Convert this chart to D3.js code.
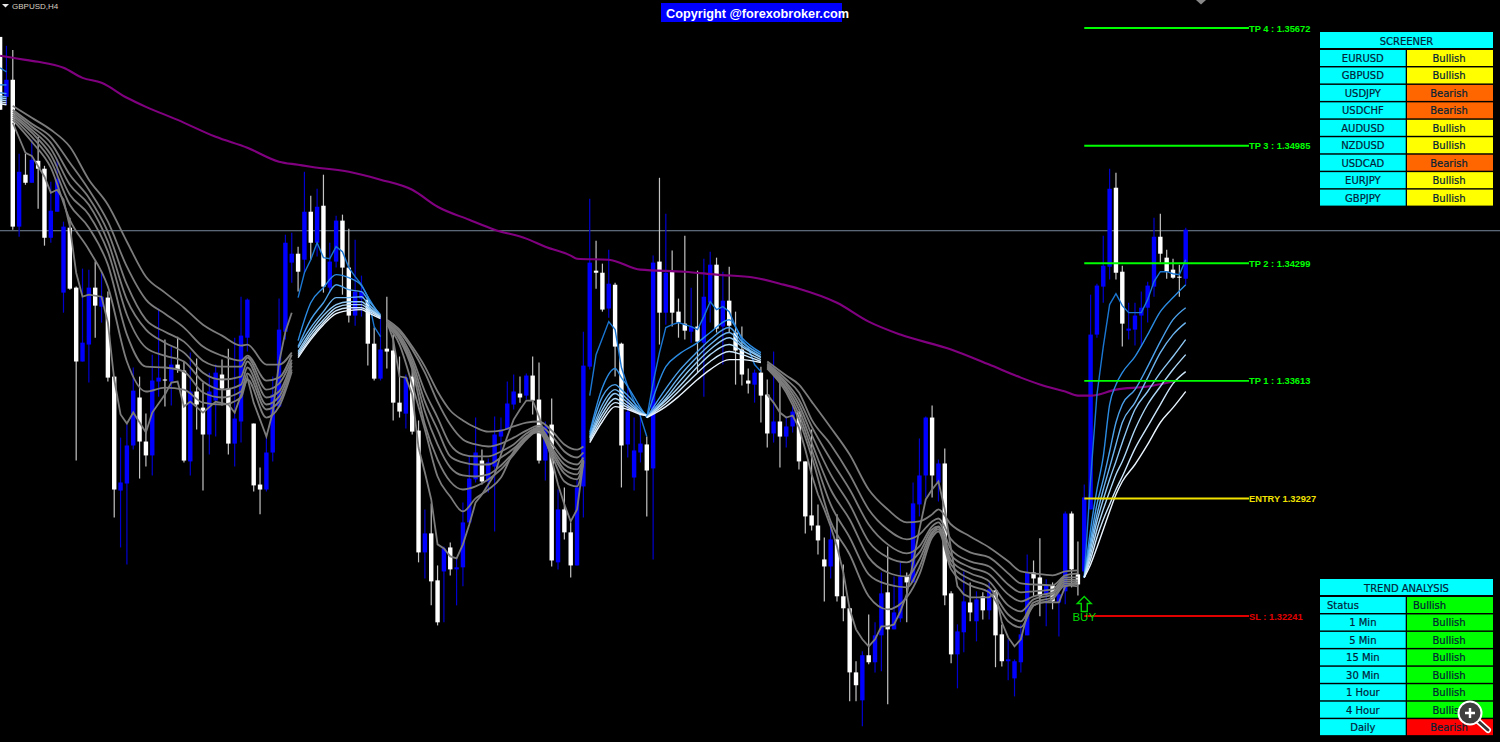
<!DOCTYPE html>
<html>
<head>
<meta charset="utf-8">
<title>GBPUSD,H4</title>
<script src="https://cdn.jsdelivr.net/npm/d3@7"></script>
<style>
    html, body { margin: 0; background: #000; overflow: hidden; }
    svg { display: block; }
    text { font-family: "Liberation Sans", Arial, sans-serif; }
    .cell-text { font-family: "DejaVu Sans", sans-serif; font-size: 10px; fill: #022238; stroke: #022238; stroke-width: 0.2; }
</style>
</head>
<body>
<div id="chart"></div>
<script>
// All prices below are in points above 1.30000 (4513 = 1.34513)
const opens = [
    5620,5270,5370,4513,4816,4769,4897,4851,4448,4600,
    4128,4507,4157,3726,3825,4157,4046,4099,3638,2973,
    3014,3236,3516,3259,3178,3609,3621,3609,3708,3673,
    3143,3551,3457,3300,3498,3650,3568,3247,3376,3865,
    3364,3008,2979,3195,3463,3900,4303,4355,4320,4600,
    4419,4635,4157,4309,4548,4274,3994,4093,4087,3830,
    3626,3801,3790,3486,3422,3638,3323,2612,2723,2449,
    2501,2641,2513,2525,2787,3038,3148,3026,3113,3288,
    3329,3475,3539,3527,3644,3504,3148,3358,2554,2863,
    2729,2536,2997,3696,4256,4244,4035,4174,3830,3242,
    3049,3195,3242,3102,4309,4011,4250,4017,3947,3900,
    3930,3836,4069,4291,3930,4081,3895,3796,3615,3591,
    3661,3533,3306,3376,3288,3347,3434,3143,2828,2769,
    2571,2530,2688,2356,2286,1912,1749,2012,1971,2128,
    2379,2163,2227,2472,2437,2892,3061,3399,3020,3131,
    2373,2017,2146,2320,2210,2356,2274,2390,2134,1977,
    1877,1971,2128,2495,2466,2367,2420,2320,2385,2839,
    2484,2501,2863,3883,4163,4279,4740,4250,3906,3912,
    3994,4040,4163,4454,4332,4262,4221,4209
];
const highs = [
    5620,5568,5544,4938,4938,5020,5037,4868,4775,4909,
    4542,4565,4163,4268,4262,4309,4250,4134,3638,3282,
    3358,3691,3638,3422,3766,4035,3854,3813,3871,3726,
    3778,3743,3603,3661,3708,3737,3801,3865,4104,4093,
    3364,3108,3288,3638,4093,4466,4478,4396,4833,4693,
    4734,4816,4419,4577,4583,4501,4437,4227,4104,3924,
    3988,4104,3883,3755,3650,3679,3382,2863,2898,2536,
    2647,2670,2577,2904,3178,3399,3212,3160,3405,3399,
    3609,3650,3638,3656,3755,3720,3376,3510,2979,2991,
    2787,3038,3900,4676,4431,4297,4378,4186,3836,3591,
    3399,3417,3288,4344,4798,4588,4373,4093,4460,4157,
    4256,4326,4367,4332,4250,4279,4017,3930,3685,3679,
    3696,3621,3784,3638,3405,3475,3434,3143,3329,2892,
    2699,2787,2834,2542,2286,1977,2035,2250,2204,2495,
    2647,2472,2554,2495,3020,3277,3405,3469,3154,3218,
    2385,2192,2501,2437,2385,2379,2437,2396,2192,2105,
    1988,2192,2600,2565,2694,2455,2437,2379,2851,2851,
    2676,3008,4116,4180,4460,4851,4827,4285,4069,4069,
    4134,4192,4565,4588,4378,4326,4291,4507
];
const lows = [
    5195,5224,4495,4454,4757,4769,4618,4402,4419,4600,
    4011,4145,3148,3726,3603,3865,3953,3609,2816,2641,
    2542,3212,3043,3113,3061,3521,3463,3469,3661,3137,
    3061,3329,2973,3183,3288,3469,3183,3113,3253,3784,
    2968,2834,2968,3143,3457,3854,4186,4134,4244,4320,
    4338,4128,4128,4274,4116,3953,3935,3988,3702,3615,
    3615,3685,3382,3399,3335,3300,2554,2460,2303,2186,
    2204,2478,2303,2414,2787,3020,3008,2962,2734,3195,
    3329,3446,3486,3504,3417,3131,3032,2530,2513,2688,
    2466,2536,2816,3679,4151,4017,3982,3638,2991,3166,
    2973,3137,2822,2571,3825,3941,3930,3865,3854,3836,
    3661,3521,3953,3895,3708,3895,3591,3586,3539,3486,
    3370,3224,3253,3108,3224,3312,3096,2723,2740,2600,
    2326,2460,2326,2210,1743,1743,1598,1959,1912,1918,
    1726,2163,2204,2204,2437,2822,2933,2933,2909,2303,
    1965,1819,2029,2210,2093,2221,2221,1942,1947,1866,
    1772,1912,2128,2356,2239,2181,2280,2122,2309,2408,
    2361,2466,2863,3865,4069,4204,4204,3813,3854,3819,
    3813,3953,4104,4303,4209,4209,4104,4174
];
const closes = [
    5195,5370,4513,4833,4769,4903,4851,4448,4606,4792,
    4513,4151,3726,3836,4157,4052,4104,3632,2979,3020,
    3236,3556,3259,3178,3615,3632,3615,3708,3679,3148,
    3551,3475,3300,3551,3661,3568,3247,3393,3877,4087,
    3003,2979,3195,3533,3912,4419,4355,4250,4600,4419,
    4629,4163,4309,4548,4274,3994,4134,4134,3830,3626,
    3796,3784,3486,3434,3632,3317,2612,2723,2443,2204,
    2635,2513,2525,2787,3043,3195,3026,3137,3300,3329,
    3481,3551,3516,3644,3498,3148,3347,2565,2863,2729,
    2536,2991,3702,4303,4244,4029,4180,3813,3236,3434,
    3207,3247,3090,4303,4011,4244,4011,3953,3906,3930,
    3842,4104,4291,3918,4081,3935,3790,3650,3597,3661,
    3527,3306,3376,3288,3347,3434,3143,2822,2769,2682,
    2530,2688,2356,2286,1912,1837,2012,1971,2128,2373,
    2163,2262,2472,2437,2898,3061,3399,3061,3131,2361,
    2017,2151,2326,2262,2338,2274,2396,2128,1977,1988,
    1977,2134,2495,2460,2356,2420,2326,2367,2839,2513,
    2425,2933,3883,4169,4285,4734,4244,3947,3918,3994,
    4040,4169,4454,4355,4250,4215,4215,4495
];

// Long moving average (purple)
const maBars = [0,2,4,6,10,13,16,20,23,28,34,39,44,47,49,55,60,65,69,74,78,83,86,90,91,96,101,108,113,119,123,126,132,137,142,150,156,161,165,168,170,172,176,181,185];
const maValues = [5510,5498,5486,5475,5440,5381,5352,5265,5212,5136,5037,4973,4892,4874,4862,4833,4787,4728,4629,4553,4495,4443,4396,4344,4326,4320,4262,4250,4233,4215,4180,4151,4069,3959,3883,3796,3708,3632,3580,3551,3527,3527,3562,3580,3609];

// Ribbon stretches: fastest line has its own bars, the slower seven share theirs
const fastBarsA = [0,1];
const fastA = [5440,5416];
const slowBarsA = [0,1];
const slowA = [[5340,5340],[5294,5288],[5276,5270],[5265,5259],[5253,5247],[5241,5235],[5230,5224]];

const fastBarsB = [2,4,5,7,8,9,10,11,12,13,14,16,17,18,19,20,21,23,24,26,27,28,29,30,32,34,36,37,39,40,42,43,44,45,46];
const fastB = [5119,4944,4926,4804,4711,4728,4670,4513,4244,4104,4116,4104,3953,3621,3417,3364,3428,3312,3428,3533,3603,3609,3463,3492,3428,3492,3475,3428,3632,3486,3288,3428,3720,3900,4011];
const slowBarsB = [2,5,8,11,14,17,20,23,26,29,32,35,38,39,42,44,46];
const slowB = [
    [5136,5008,4857,4553,4378,4163,3726,3551,3574,3562,3486,3475,3516,3621,3399,3463,3667],
    [5148,5037,4897,4641,4507,4291,3883,3696,3691,3667,3545,3516,3551,3656,3446,3492,3679],
    [5160,5061,4932,4699,4583,4367,3999,3807,3760,3726,3609,3562,3591,3691,3475,3521,3702],
    [5171,5078,4967,4757,4641,4425,4087,3912,3836,3778,3661,3621,3638,3726,3516,3551,3720],
    [5183,5096,5002,4816,4682,4483,4174,3970,3900,3842,3731,3696,3696,3749,3562,3597,3737],
    [5195,5113,5037,4886,4728,4542,4279,4087,4005,3924,3813,3760,3731,3760,3615,3632,3766],
    [5218,5148,5078,4979,4787,4641,4425,4221,4128,4040,3941,3877,3819,3825,3708,3708,3778]
];

const fastBarsC = [47,48,49,50,51,52,53,54,55,56,57,58,59,60];
const fastC = [4099,4244,4320,4419,4332,4326,4396,4367,4274,4221,4174,4104,3930,3871];
const slowBarsC = [47,49,51,53,55,57,58,60];
const slowC = [
    [3848,4069,4157,4233,4215,4169,4104,3988],
    [3813,3970,4069,4174,4145,4134,4087,3999],
    [3807,3924,4017,4099,4099,4104,4064,3994],
    [3784,3900,3994,4058,4075,4075,4046,3988],
    [3772,3883,3970,4040,4058,4058,4035,3988],
    [3760,3865,3953,4023,4040,4040,4023,3982],
    [3749,3854,3941,4005,4023,4029,4011,3976]
];

const fastBarsD = [61,62,63,64,65,66,67,68,69,70,71,72,73,74,75,76,77,78,79,80,81,82,83,84,85,86,87,88,89,90,91,92];
const fastD = [3959,3854,3638,3632,3533,3224,3078,2921,2659,2635,2589,2577,2659,2775,2904,2950,3008,3067,3183,3288,3387,3446,3498,3498,3405,3282,3154,3008,2892,2793,2863,3137];
const slowBarsD = [61,63,65,67,69,71,73,75,77,79,81,83,85,87,89,91,92];
const slowD = [
    [3941,3825,3591,3329,3055,2938,2851,2927,2979,3049,3201,3288,3312,3178,3026,2997,3143],
    [3947,3854,3679,3358,3154,3026,2979,2997,3038,3096,3183,3271,3323,3195,3073,3038,3143],
    [3953,3865,3702,3434,3242,3108,3061,3055,3067,3119,3195,3277,3329,3212,3096,3067,3148],
    [3953,3871,3726,3492,3329,3172,3137,3125,3125,3166,3218,3288,3335,3224,3125,3096,3154],
    [3953,3883,3749,3551,3399,3242,3183,3172,3172,3201,3242,3306,3341,3247,3154,3125,3166],
    [3959,3900,3796,3661,3492,3358,3271,3242,3230,3247,3282,3323,3352,3294,3201,3166,3195],
    [3970,3912,3813,3696,3551,3440,3382,3341,3317,3323,3347,3370,3376,3323,3242,3212,3230]
];

const fastBarsE = [93,94,96,97,98,99,101,102];
const fastE = [3527,3766,3959,3912,3691,3580,3405,3288];
const slowBarsE = [93,95,97,98,99,101,102];
const slowE = [
    [3312,3574,3685,3632,3580,3457,3399],
    [3300,3521,3591,3562,3527,3446,3411],
    [3288,3475,3562,3539,3504,3434,3411],
    [3282,3446,3539,3516,3486,3428,3411],
    [3277,3422,3510,3492,3469,3422,3411],
    [3265,3399,3486,3475,3457,3422,3411],
    [3253,3376,3463,3457,3446,3417,3411]
];

const fastBarsF = [102,103,104,105,106,107,108,109,110,111,112,113,114,115,116,117,118,119,120];
const fastF = [3399,3603,3778,3924,3941,3953,3941,3930,3912,3988,4075,4029,4046,4017,3930,3854,3807,3708,3667];
const slowBarsF = [102,105,107,110,112,115,117,120];
const slowF = [
    [3399,3696,3766,3836,3895,3970,3865,3778],
    [3399,3568,3667,3784,3854,3924,3842,3766],
    [3399,3533,3632,3755,3825,3895,3825,3755],
    [3399,3510,3603,3726,3796,3865,3813,3749],
    [3399,3498,3574,3696,3766,3825,3790,3737],
    [3399,3481,3551,3661,3726,3784,3766,3726],
    [3399,3463,3521,3621,3679,3737,3737,3720]
];

const fastBarsG = [121,122,123,124,125,126,127,128,129,130,131,132,133,134,135,136,137,138,139,140,141,142,143,144,145,146,147,148,149,150,151,152,153,154,155,156,157,158,159,160,161,162,163,164,165,166,167,168,169,170];
const fastG = [3533,3486,3428,3399,3411,3341,3212,3067,2950,2863,2764,2647,2495,2280,2163,2105,2064,2105,2181,2181,2192,2268,2367,2554,2746,2921,2979,3026,2863,2629,2414,2367,2350,2350,2350,2350,2379,2204,2116,2064,2105,2250,2303,2320,2320,2320,2320,2414,2425,2437];
const slowBarsG = [121,124,126,128,131,134,137,140,143,145,147,148,150,153,156,159,161,163,166,168,170];
const slowG = [
    [3685,3545,3387,3172,2793,2600,2356,2280,2350,2484,2699,2734,2513,2420,2379,2210,2175,2303,2338,2420,2414],
    [3691,3562,3417,3212,2892,2699,2484,2425,2408,2525,2717,2746,2542,2455,2408,2250,2210,2320,2350,2431,2425],
    [3696,3574,3446,3253,2979,2804,2583,2495,2472,2571,2729,2758,2565,2490,2443,2303,2268,2338,2367,2443,2437],
    [3702,3591,3475,3300,3067,2892,2676,2583,2554,2612,2746,2764,2595,2525,2484,2367,2326,2356,2379,2455,2449],
    [3708,3603,3504,3347,3154,2979,2775,2659,2606,2647,2764,2787,2629,2560,2530,2425,2379,2385,2396,2466,2466],
    [3714,3621,3545,3387,3242,3067,2863,2746,2688,2717,2793,2810,2688,2612,2583,2490,2431,2425,2420,2478,2490],
    [3726,3644,3591,3492,3341,3183,2979,2863,2787,2793,2834,2863,2775,2705,2641,2560,2501,2490,2478,2501,2507]
];

const fastBarsH = [171,172,173,174,175,176,177,178,179,180,181,182,183,184,185,186,187];
const fastH = [2466,3038,3533,3813,4058,4122,4052,4011,4011,4011,4087,4192,4250,4250,4238,4233,4320];
const slowBarsH = [171,172,173,174,175,176,177,179,181,183,185,187];
const slowH = [
    [2466,2746,2979,3172,3475,3591,3661,3755,3883,4017,4099,4174],
    [2466,2688,2892,3038,3201,3370,3475,3562,3696,3842,3970,4040],
    [2466,2659,2833,2979,3108,3242,3370,3486,3632,3778,3883,3953],
    [2466,2629,2793,2921,3038,3143,3253,3446,3551,3661,3755,3854],
    [2466,2600,2746,2863,2968,3067,3143,3329,3475,3580,3679,3766],
    [2466,2571,2699,2804,2892,2979,3055,3218,3347,3475,3597,3667],
    [2466,2542,2641,2746,2851,2950,3026,3125,3242,3370,3457,3551]
];

// Trade levels
const levelNames = ["TP 4 : ", "TP 3 : ", "TP 2 : ", "TP 1 : ", "ENTRY ", "SL : "];
const levelPrices = [5672, 4985, 4299, 3613, 2927, 2241];
const bidPrice = 4489;
const buyBar = 171;
const buyPrice = 2466;

// Panels
const screenerPairs = ["EURUSD", "GBPUSD", "USDJPY", "USDCHF", "AUDUSD", "NZDUSD", "USDCAD", "EURJPY", "GBPJPY"];
const screenerStates = ["Bullish", "Bullish", "Bearish", "Bearish", "Bullish", "Bullish", "Bearish", "Bullish", "Bullish"];
const trendFrames = ["Status", "1 Min", "5 Min", "15 Min", "30 Min", "1 Hour", "4 Hour", "Daily"];
const trendStates = ["Bullish", "Bullish", "Bullish", "Bullish", "Bullish", "Bullish", "Bullish", "Bearish"];

// Chart dimensions
const width = 1500;
const height = 742;
const bodyWidth = 4.4;

const formatPrice = d3.format(".5f");
const toPrice = p => 1.3 + p / 100000;

const svg = d3.select("#chart")
    .append("svg")
    .attr("width", width)
    .attr("height", height)
    .style("background", "#000");

const x = d3.scaleLinear().domain([0, 187]).range([0.1, 1185.7]);
const y = d3.scaleLinear().domain([2241, 5672]).range([616, 28]);

// Bid line under everything
svg.append("line")
    .attr("x1", 0)
    .attr("x2", width)
    .attr("y1", y(bidPrice))
    .attr("y2", y(bidPrice))
    .attr("stroke", "#778899")
    .attr("stroke-width", 1);

// Candles
const candles = opens.map((o, i) => ({i, o, h: highs[i], l: lows[i], c: closes[i], bull: closes[i] >= o}));

const candleG = svg.append("g");

candleG.selectAll(".wick")
    .data(candles)
    .join("line")
    .attr("class", "wick")
    .attr("x1", d => x(d.i))
    .attr("x2", d => x(d.i))
    .attr("y1", d => y(d.h))
    .attr("y2", d => y(d.l))
    .attr("stroke", d => d.bull ? "#0000d0" : "#c4c4c4")
    .attr("stroke-width", 1.2);

candleG.selectAll(".body")
    .data(candles)
    .join("rect")
    .attr("class", "body")
    .attr("x", d => x(d.i) - bodyWidth / 2)
    .attr("y", d => y(Math.max(d.o, d.c)))
    .attr("width", bodyWidth)
    .attr("height", d => Math.max(1, Math.abs(y(d.o) - y(d.c))))
    .attr("fill", d => d.bull ? "#0000ff" : "#ffffff");

// Moving average
const maLine = d3.line().x(d => x(d[0])).y(d => y(d[1])).curve(d3.curveMonotoneX);

svg.append("path")
    .attr("d", maLine(d3.zip(maBars, maValues)))
    .attr("fill", "none")
    .attr("stroke", "#800080")
    .attr("stroke-width", 2.1);

// Ribbon
const blueShades = ["#1a76d2", "#2b8be2", "#4ba0ea", "#6cb4ef", "#8fc8f4", "#aed8f7", "#cce6fb", "#eaf5ff"];
const segments = [
    {kind: "blue", fastBars: fastBarsA, fast: fastA, bars: slowBarsA, slow: slowA},
    {kind: "grey", fastBars: fastBarsB, fast: fastB, bars: slowBarsB, slow: slowB},
    {kind: "blue", fastBars: fastBarsC, fast: fastC, bars: slowBarsC, slow: slowC},
    {kind: "grey", fastBars: fastBarsD, fast: fastD, bars: slowBarsD, slow: slowD},
    {kind: "blue", fastBars: fastBarsE, fast: fastE, bars: slowBarsE, slow: slowE},
    {kind: "blue", fastBars: fastBarsF, fast: fastF, bars: slowBarsF, slow: slowF},
    {kind: "grey", fastBars: fastBarsG, fast: fastG, bars: slowBarsG, slow: slowG},
    {kind: "blue", fastBars: fastBarsH, fast: fastH, bars: slowBarsH, slow: slowH}
];

const fastLine = d3.line().x(d => x(d[0])).y(d => y(d[1]));
const slowLine = d3.line().x(d => x(d[0])).y(d => y(d[1])).curve(d3.curveMonotoneX);

segments.forEach(seg => {
    const g = svg.append("g")
        .attr("fill", "none")
        .attr("stroke-width", seg.kind === "blue" ? 1.4 : 1.8);

    g.append("path")
        .attr("d", fastLine(d3.zip(seg.fastBars, seg.fast)))
        .attr("stroke", seg.kind === "blue" ? blueShades[0] : "#7c7c7c");

    seg.slow.forEach((values, k) => {
        g.append("path")
            .attr("d", slowLine(d3.zip(seg.bars, values)))
            .attr("stroke", seg.kind === "blue" ? blueShades[k + 1] : "#7c7c7c");
    });
});

// Trade levels
const levelColors = ["#00ff00", "#00ff00", "#00ff00", "#00ff00", "#f2e200", "#e00000"];
const levelX1 = x(buyBar);
const levelX2 = 1249;

svg.selectAll(".level")
    .data(levelPrices)
    .join("line")
    .attr("class", "level")
    .attr("x1", levelX1)
    .attr("x2", levelX2)
    .attr("y1", d => y(d))
    .attr("y2", d => y(d))
    .attr("stroke", (d, i) => levelColors[i])
    .attr("stroke-width", 1.9);

svg.selectAll(".level-label")
    .data(levelPrices)
    .join("text")
    .attr("class", "level-label")
    .attr("x", levelX2)
    .attr("y", d => y(d) + 3.6)
    .attr("fill", (d, i) => levelColors[i])
    .attr("font-size", 9.3)
    .attr("font-weight", "bold")
    .text((d, i) => levelNames[i] + formatPrice(toPrice(d)));

// Buy arrow under the signal bar
const buyX = x(buyBar);
const buyY = y(buyPrice) + 19;

svg.append("path")
    .attr("d", `M${buyX},${buyY} l7,7 h-4 v8 h-6 v-8 h-4 z`)
    .attr("fill", "none")
    .attr("stroke", "#00d800")
    .attr("stroke-width", 1.4);

svg.append("text")
    .attr("x", buyX)
    .attr("y", buyY + 25)
    .attr("text-anchor", "middle")
    .attr("fill", "#00d800")
    .attr("font-size", 11.5)
    .text("BUY");

// Symbol caption
svg.append("path")
    .attr("d", "M2,4 h7 l-3.5,3.5 z")
    .attr("fill", "#e8e8e8");

svg.append("text")
    .attr("x", 12)
    .attr("y", 9)
    .attr("fill", "#d8d0c0")
    .attr("font-size", 8)
    .text("GBPUSD,H4");

// Small marker cut off at the top edge
svg.append("path")
    .attr("d", "M1196,0 h10 l-5,4.5 z")
    .attr("fill", "#888");

// Copyright banner
svg.append("rect")
    .attr("x", 661)
    .attr("y", 3)
    .attr("width", 181)
    .attr("height", 19)
    .attr("fill", "#0000ff");

svg.append("text")
    .attr("x", 666)
    .attr("y", 18)
    .attr("fill", "#fff")
    .attr("font-size", 12.7)
    .attr("font-weight", "bold")
    .text("Copyright @forexobroker.com");

// Panels
const panelX = 1320;
const leftW = 85.7;
const rightX = 1407;
const rightW = 86;
const rowH = 16;
const rowStep = 17.45;

function drawPanel(title, top, names, states, stateColor) {
    const g = svg.append("g");
    const rowY = i => top + 18 + rowStep * i;

    g.append("rect")
        .attr("x", panelX)
        .attr("y", top)
        .attr("width", rightX + rightW - panelX)
        .attr("height", rowH)
        .attr("fill", "#00ffff");

    g.append("text")
        .attr("class", "cell-text")
        .attr("x", panelX + (rightX + rightW - panelX) / 2)
        .attr("y", top + 13)
        .attr("text-anchor", "middle")
        .text(title);

    names.forEach((name, i) => {
        g.append("rect")
            .attr("x", panelX)
            .attr("y", rowY(i))
            .attr("width", leftW)
            .attr("height", rowH)
            .attr("fill", "#00ffff");

        g.append("rect")
            .attr("x", rightX)
            .attr("y", rowY(i))
            .attr("width", rightW)
            .attr("height", rowH)
            .attr("fill", stateColor(states[i]));

        const isStatus = name === "Status";

        g.append("text")
            .attr("class", "cell-text")
            .attr("x", isStatus ? panelX + 7 : panelX + leftW / 2)
            .attr("y", rowY(i) + 12)
            .attr("text-anchor", isStatus ? "start" : "middle")
            .text(name);

        g.append("text")
            .attr("class", "cell-text")
            .attr("x", isStatus ? rightX + 6 : rightX + rightW / 2 - 1)
            .attr("y", rowY(i) + 12)
            .attr("text-anchor", isStatus ? "start" : "middle")
            .text(states[i]);
    });
}

drawPanel("SCREENER", 32, screenerPairs, screenerStates, s => s === "Bullish" ? "#ffff00" : "#ff6600");
drawPanel("TREND ANALYSIS", 579, trendFrames, trendStates, s => s === "Bullish" ? "#00ff00" : "#ff0000");

// Zoom icon over the lower panel
const icon = svg.append("g").attr("transform", "translate(1470,713)");

icon.append("line")
    .attr("x1", 8)
    .attr("y1", 8)
    .attr("x2", 18)
    .attr("y2", 17)
    .attr("stroke", "#fff")
    .attr("stroke-width", 6)
    .attr("stroke-linecap", "round");

icon.append("line")
    .attr("x1", 8)
    .attr("y1", 8)
    .attr("x2", 18)
    .attr("y2", 17)
    .attr("stroke", "#333")
    .attr("stroke-width", 3)
    .attr("stroke-linecap", "round");

icon.append("circle")
    .attr("r", 11.5)
    .attr("fill", "#3e3e3e")
    .attr("stroke", "#fff")
    .attr("stroke-width", 2);

icon.append("path")
    .attr("d", "M-5,0 H5 M0,-5 V5")
    .attr("stroke", "#fff")
    .attr("stroke-width", 2.4);
</script>
</body>
</html>
